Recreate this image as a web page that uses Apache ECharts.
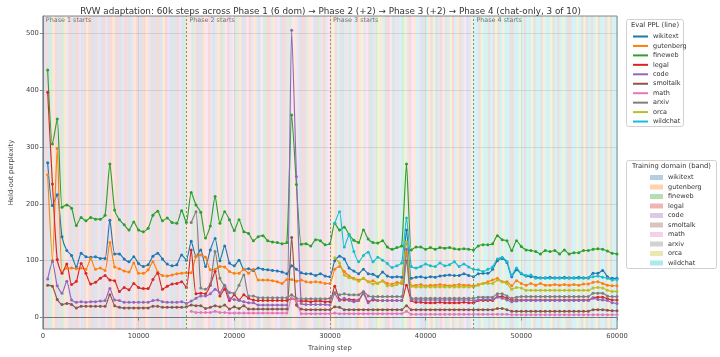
<!DOCTYPE html>
<html>
<head>
<meta charset="utf-8">
<script src="https://cdn.jsdelivr.net/npm/echarts@6/dist/echarts.min.js"></script>
<style>html,body{margin:0;padding:0;background:#fff}#c{width:720px;height:357px}</style>
</head>
<body>
<div id="c"></div>
<script>
// ---------------- data ----------------
const titleText = 'RVW adaptation: 60k steps across Phase 1 (6 dom) \u2192 Phase 2 (+2) \u2192 Phase 3 (+2) \u2192 Phase 4 (chat-only, 3 of 10)';
const domains = ['wikitext','gutenberg','fineweb','legal','code','smoltalk','math','arxiv','orca','wildchat'];
const colors = ['#1f77b4','#ff7f0e','#2ca02c','#d62728','#9467bd','#8c564b','#e377c2','#7f7f7f','#bcbd22','#17becf'];
const evalEvery = 500;
const firstEvalStep = {wikitext:500,gutenberg:500,fineweb:500,legal:500,code:500,smoltalk:500,math:15500,arxiv:15500,orca:30500,wildchat:30500};
const phaseStarts = [0, 15000, 30000, 45000];
const phaseLabels = ['Phase 1 starts','Phase 2 starts','Phase 3 starts','Phase 4 starts'];
const xTicks = [0,10000,20000,30000,40000,50000,60000];
const yTicks = [0,100,200,300,400,500];

const wikitext = [272,197,216,142,118,109,89,113,107,106,
107,104,104,171,112,112,103,98,107,95,
90,93,108,113,103,94,91,93,110,101,
134,108,119,90,119,139,100,126,96,91,
101,85,86,83,87,85,84,83,82,80,
77,91,85,79,77,77,74,77,73,72,
100,108,103,87,82,77,85,77,76,72,
80,73,71,72,71,154,69,71,72,70,
72,71,73,74,75,74,74,77,74,72,
77,78,78,85,100,104,97,72,84,77,
73,72,71,70,70,71,70,70,71,70,
70,71,70,70,78,78,83,72,69,69];
const gutenberg = [251,101,297,80,87,87,86,87,85,104,
85,87,83,132,89,86,82,80,96,78,
78,84,98,80,74,73,75,77,78,79,
79,108,110,106,84,85,90,89,81,78,
78,85,78,85,66,66,66,65,63,60,
67,67,64,66,63,62,63,62,60,60,
85,90,81,73,69,66,69,63,65,60,
65,60,59,62,60,113,56,57,58,56,
57,57,58,57,56,57,58,57,57,56,
58,60,63,66,69,63,63,56,65,60,
57,60,57,60,57,57,58,57,58,57,
58,57,59,59,62,63,60,57,56,56];
const fineweb = [435,305,349,194,198,192,162,176,170,176,
173,173,180,270,189,172,163,154,168,154,
151,157,180,187,170,175,167,166,188,167,
220,198,185,140,161,213,166,186,172,153,
172,151,148,135,142,144,135,133,132,130,
132,356,234,129,130,126,137,135,128,130,
166,154,159,146,136,132,154,138,132,131,
135,124,120,123,126,270,119,124,124,120,
123,120,123,122,123,121,120,121,120,119,
126,128,128,130,144,137,135,118,135,125,
119,118,116,112,118,116,118,112,119,112,
114,114,118,118,120,121,120,117,113,112];
const legal = [396,235,102,78,94,58,64,95,78,59,
62,69,74,66,65,46,53,49,60,53,
51,51,67,78,50,55,59,60,63,53,
119,42,43,42,57,81,38,50,30,40,
31,40,34,31,30,30,30,30,30,30,
30,34,30,29,29,28,29,29,28,28,
55,32,31,32,31,31,44,28,31,30,
30,30,30,30,30,57,30,27,27,26,
26,26,27,26,26,26,26,27,26,26,
30,30,30,30,37,37,34,31,31,31,
31,31,31,31,31,31,31,31,31,31,
31,31,31,31,35,36,36,33,31,31];
const code = [68,98,56,43,64,31,27,28,27,28,
28,29,30,51,31,30,27,27,27,27,
27,27,30,31,28,27,27,27,28,25,
29,34,38,38,42,50,44,57,34,32,
30,28,26,26,22,22,22,22,22,22,
22,505,248,25,23,23,23,23,23,22,
42,30,34,30,28,30,42,26,33,30,
30,30,30,30,30,120,32,31,31,31,
31,31,31,31,31,31,31,31,31,30,
31,32,32,32,36,34,31,28,29,30,
30,30,30,30,30,30,30,30,30,30,
30,30,30,30,34,32,31,30,26,25];
const smoltalk = [57,55,32,23,25,23,17,20,20,20,
20,20,20,40,21,18,17,17,17,17,
17,17,20,20,18,18,18,18,18,19,
22,21,21,16,18,21,19,22,15,19,
16,21,15,15,15,15,15,15,15,15,
15,141,22,15,14,14,14,14,14,14,
19,18,14,14,14,14,14,14,14,14,
14,14,14,14,14,21,14,14,14,14,
14,14,14,14,14,14,14,14,14,14,
14,14,14,14,16,16,14,11,11,11,
11,11,11,11,11,11,11,11,11,11,
11,11,11,11,14,14,14,13,12,12];
const math = [11,9,9,9,9,11,9,9,8,8,
8,8,8,8,8,8,8,8,8,8,
8,35,30,7,7,7,7,7,7,7,
8,7,7,7,7,7,7,7,7,7,
7,7,7,7,7,11,6,6,6,6,
6,6,6,6,6,6,6,6,6,6,
6,6,6,6,6,6,6,5,5,5,
5,5,5,5,5,5,5,5,5,5,
5,5,5,5,5,5,5,5,5,5];
const arxiv = [167,186,52,50,59,116,69,55,44,43,
57,75,38,38,35,35,35,35,35,35,
35,40,34,33,33,33,33,33,33,34,
44,40,42,40,40,40,46,38,37,37,
37,37,37,37,37,100,34,34,34,34,
34,34,34,34,34,34,34,34,34,34,
36,36,36,36,42,42,38,34,36,37,
37,37,37,37,37,37,37,37,37,37,
37,37,37,37,43,43,43,38,37,37];
const orca = [105,96,75,70,68,64,69,63,59,61,
64,56,56,58,64,133,55,54,54,54,
54,54,54,54,54,54,54,54,54,54,
57,60,60,60,66,63,60,50,53,52,
48,48,48,48,48,48,48,48,48,48,
48,48,48,48,52,53,52,48,46,46];
const wildchat = [166,186,124,145,116,98,109,115,98,106,
101,95,88,91,96,175,90,87,90,94,
91,90,96,91,93,98,90,94,89,85,
84,81,85,89,103,106,98,75,87,78,
74,75,69,69,69,69,69,69,69,69,
69,69,69,69,72,73,71,69,66,67];
const evalValues = {wikitext,gutenberg,fineweb,legal,code,smoltalk,math,arxiv,orca,wildchat};

// training-domain band sequence (domain index per 250-step slot), one string per phase
const bandWidth = 250;
const phase1Bands = '030213052143053403153054034531530435041305314503501340503402';
const phase2Bands = '162730516340715263462710563417062537146035726140357160524376';
const phase3Bands = '183950742693184650728195360749287361940591580736248391576048';
const phase4Bands = '995899595859899559989599859958998595989559989585959859958599';

// ---------------- build ----------------
const seq = phase1Bands + phase2Bands + phase3Bands + phase4Bands;
const bandsByDomain = domains.map(() => []);
for (let i = 0; i < seq.length;) {
  let j = i;
  while (j + 1 < seq.length && seq[j + 1] === seq[i]) j++;
  bandsByDomain[+seq[i]].push([i * bandWidth, (j + 1) * bandWidth]);
  i = j + 1;
}
function rgba(hex, a) {
  const n = parseInt(hex.slice(1), 16);
  return 'rgba(' + ((n >> 16) & 255) + ',' + ((n >> 8) & 255) + ',' + (n & 255) + ',' + a + ')';
}
const FONT = 'DejaVu Sans';
const series = [];
domains.forEach((d, k) => {
  const fill = rgba(colors[k], 0.18);
  series.push({
    type: 'custom', name: 'band:' + d, z: 1, silent: true, clip: true,
    itemStyle: { color: rgba(colors[k], 0.35) },
    encode: { x: [0, 1] },
    data: bandsByDomain[k],
    renderItem: function (params, api) {
      const x0 = api.coord([api.value(0), 0])[0];
      const x1 = api.coord([api.value(1), 0])[0];
      const cs = params.coordSys;
      return { type: 'rect', shape: { x: x0, y: cs.y, width: x1 - x0, height: cs.height }, style: { fill: fill } };
    }
  });
});
series.push({
  type: 'line', name: '_guides', z: 2, silent: true, data: [],
  markLine: {
    silent: true, symbol: 'none', animation: false, label: { show: false },
    data: yTicks.map(v => ({ yAxis: v, lineStyle: { color: 'rgba(0,0,0,0.09)', type: 'solid', width: 1 } }))
      .concat(phaseStarts.slice(1).map(v => ({ xAxis: v, lineStyle: { color: '#8a8a8a', type: [2, 2], width: 1 } })))
  },
  markPoint: {
    silent: true, symbol: 'rect', symbolSize: 0, animation: false,
    data: phaseStarts.map((s, k) => ({
      coord: [s, 530],
      label: { show: true, formatter: phaseLabels[k], position: [3, 1], align: 'left', verticalAlign: 'top',
        color: '#777', fontSize: 6.4, fontFamily: FONT }
    }))
  }
});
domains.forEach((d, k) => {
  const vals = evalValues[d];
  const start = firstEvalStep[d];
  series.push({
    type: 'line', name: d, z: 3, smooth: 0.2,
    symbol: 'circle', symbolSize: 3, showSymbol: true,
    lineStyle: { width: 1.15, color: colors[k] },
    itemStyle: { color: colors[k] },
    data: vals.map((v, i) => [start + i * evalEvery, v])
  });
});

const chart = echarts.init(document.getElementById('c'), null, { renderer: 'canvas' });
chart.setOption({
  animation: false,
  backgroundColor: '#fff',
  textStyle: { fontFamily: FONT },
  title: {
    text: titleText, left: 325.5, top: 2.5, textAlign: 'center',
    textStyle: { fontSize: 8.8, fontWeight: 'normal', color: '#333', fontFamily: FONT }
  },
  grid: { left: 34, right: 103, top: 16, bottom: 28, show: true, borderColor: '#888', borderWidth: 1, backgroundColor: 'transparent' },
  xAxis: {
    type: 'value', min: 0, max: 60000, interval: 10000,
    name: 'Training step', nameLocation: 'middle', nameGap: 13,
    nameTextStyle: { fontSize: 6.8, color: '#444', fontFamily: FONT },
    axisLine: { show: true, lineStyle: { color: '#888' } },
    axisTick: { show: true, length: 3, lineStyle: { color: '#888' } },
    axisLabel: { fontSize: 6.8, color: '#444', margin: 4, fontFamily: FONT, showMaxLabel: true, formatter: v => String(v) },
    splitLine: { show: true, lineStyle: { color: 'rgba(0,0,0,0.07)' } }
  },
  yAxis: {
    type: 'value', min: -20, max: 530,
    name: 'Held-out perplexity', nameLocation: 'middle', nameGap: 24,
    nameTextStyle: { fontSize: 6.8, color: '#444', fontFamily: FONT },
    axisLine: { show: true, lineStyle: { color: '#888' } },
    axisTick: { show: true, length: 3, lineStyle: { color: '#888' }, customValues: yTicks },
    axisLabel: { fontSize: 6.8, color: '#444', margin: 4, fontFamily: FONT, customValues: yTicks, formatter: v => String(v) },
    splitLine: { show: false }
  },
  legend: [
    {
      orient: 'vertical', left: 628, top: 27, itemWidth: 15, itemHeight: 2, itemGap: 0.45, icon: 'rect',
      textStyle: { fontSize: 6.5, color: '#333', lineHeight: 9, fontFamily: FONT },
      data: domains.slice(), selectedMode: false
    },
    {
      orient: 'vertical', left: 645, top: 168, itemWidth: 13, itemHeight: 5, itemGap: 0.5, icon: 'rect',
      textStyle: { fontSize: 6.5, color: '#333', lineHeight: 9, fontFamily: FONT },
      formatter: n => n.replace('band:', ''),
      data: domains.map(d => 'band:' + d), selectedMode: false
    }
  ],
  graphic: [
    { type: 'rect', z: -1, shape: { x: 626.5, y: 19.5, width: 57, height: 107, r: 2 }, style: { fill: 'rgba(255,255,255,0.85)', stroke: '#d0d0d0', lineWidth: 1 } },
    { type: 'text', x: 655, y: 25, style: { text: 'Eval PPL (line)', fontSize: 6.8, fill: '#333', fontFamily: FONT, align: 'center', verticalAlign: 'middle' } },
    { type: 'rect', z: -1, shape: { x: 626.5, y: 160.5, width: 90, height: 108, r: 2 }, style: { fill: 'rgba(255,255,255,0.85)', stroke: '#d0d0d0', lineWidth: 1 } },
    { type: 'text', x: 671.5, y: 166, style: { text: 'Training domain (band)', fontSize: 6.8, fill: '#333', fontFamily: FONT, align: 'center', verticalAlign: 'middle' } }
  ],
  series: series
});
</script>
</body>
</html>
